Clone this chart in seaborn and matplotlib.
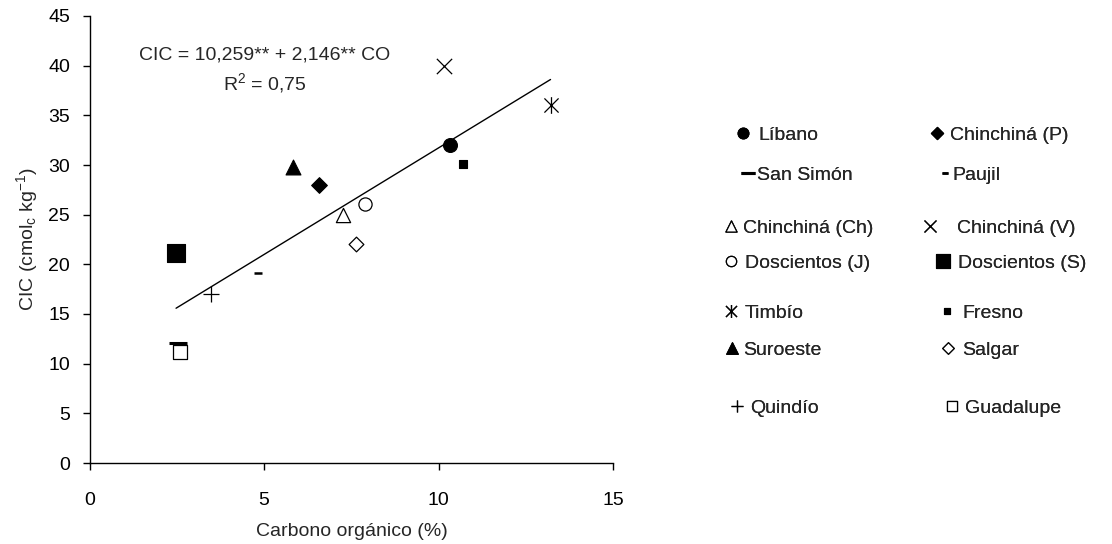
import numpy as np
import pandas as pd
import matplotlib
matplotlib.use("Agg")
import matplotlib.pyplot as plt
from matplotlib.path import Path
import seaborn as sns

# ---------------- data ----------------
sites = ['Líbano', 'Chinchiná (P)', 'San Simón', 'Paujil', 'Chinchiná (Ch)',
         'Chinchiná (V)', 'Doscientos (J)', 'Doscientos (S)', 'Timbío', 'Fresno',
         'Suroeste', 'Salgar', 'Quindío', 'Guadalupe']
carbono = [10.32, 6.59, 2.54, 4.84, 7.25, 10.15, 7.90, 2.48, 13.21, 10.71, 5.84, 7.65, 3.49, 2.60]
cic = [32.0, 28.0, 12.1, 19.1, 25.0, 40.0, 26.1, 21.1, 36.0, 30.1, 29.8, 22.0, 17.0, 11.2]
intercept = 10.259
slope = 2.146
eq_text = 'CIC = 10,259** + 2,146** CO'
r2_text = r'R$^{2}$ = 0,75'
x_ticks = [0, 5, 10, 15]
y_ticks = [0, 5, 10, 15, 20, 25, 30, 35, 40, 45]
x_label = 'Carbono orgánico (%)'
y_label = r'CIC (cmol$_\mathregular{c}$ kg$^{-1}$)'

df = pd.DataFrame({'site': sites, 'co': carbono, 'cic': cic})

# ---------------- styles ----------------
asterisk = Path([(-0.85, -0.85), (0.85, 0.85), (-0.85, 0.85), (0.85, -0.85), (0, -1.0), (0, 1.0)],
                [Path.MOVETO, Path.LINETO, Path.MOVETO, Path.LINETO, Path.MOVETO, Path.LINETO])
# marker, size (pt^2), filled?, line width
styles = {
    'Líbano':         ('o', 100, True, 0.8),
    'Chinchiná (P)':  ('D', 64, True, 0.8),
    'San Simón':      ('_', 174, None, 2.2),
    'Paujil':         ('_', 36, None, 1.8),
    'Chinchiná (Ch)': ('^', 105, False, 0.9),
    'Chinchiná (V)':  ('x', 121, None, 0.9),
    'Doscientos (J)': ('o', 90, False, 0.9),
    'Doscientos (S)': ('s', 150, True, 0.8),
    'Timbío':         (asterisk, 144, False, 0.9),
    'Fresno':         ('s', 33, True, 0.8),
    'Suroeste':       ('^', 115, True, 0.8),
    'Salgar':         ('D', 56, False, 0.9),
    'Quindío':        ('+', 121, None, 0.9),
    'Guadalupe':      ('s', 100, False, 0.9),
}
# legend layout: marker centre x (px), text start x (px), row y (px)
legend_layout = {
    'Líbano': (743, 758, 135), 'Chinchiná (P)': (937, 950, 135),
    'San Simón': (748, 757, 175), 'Paujil': (945, 952, 175),
    'Chinchiná (Ch)': (731, 743, 228), 'Chinchiná (V)': (930, 957, 228),
    'Doscientos (J)': (731, 745, 263), 'Doscientos (S)': (943, 958, 263),
    'Timbío': (731, 745, 313), 'Fresno': (947, 962, 313),
    'Suroeste': (732, 743, 350), 'Salgar': (948, 962, 350),
    'Quindío': (737, 750, 408), 'Guadalupe': (952, 965, 408),
}

sns.set_style('white')
plt.rcParams['font.family'] = ['Liberation Sans', 'DejaVu Sans']
plt.rcParams['mathtext.fontset'] = 'custom'
plt.rcParams['mathtext.rm'] = 'Liberation Sans'
plt.rcParams['mathtext.it'] = 'Liberation Sans:italic'
plt.rcParams['mathtext.bf'] = 'Liberation Sans:bold'
plt.rcParams['axes.unicode_minus'] = True

FS = 14
W, H = 1112, 544
fig = plt.figure(figsize=(W / 100, H / 100), dpi=100)
x0, x1, y0, y1 = 89.5, 613, 463, 16
ax = fig.add_axes([x0 / W, 1 - y0 / H, (x1 - x0) / W, (y0 - y1) / H])

handles = {}
for name in sites:
    m, s, filled, lw = styles[name]
    sub = df[df['site'] == name]
    if filled is None:
        sns.scatterplot(data=sub, x='co', y='cic', marker=m, s=s, color='black',
                        linewidth=lw, ax=ax, label=name, legend=False)
    else:
        sns.scatterplot(data=sub, x='co', y='cic', marker=m, s=s,
                        facecolor='black' if filled else 'white',
                        edgecolor='black', linewidth=lw, ax=ax, label=name, legend=False)
    handles[name] = ax.collections[-1]

xs = np.array([min(carbono), max(carbono)])
sns.lineplot(x=xs, y=intercept + slope * xs, color='black', linewidth=1.0, ax=ax, legend=False)

ax.set_xlim(0, 15)
ax.set_ylim(0, 45)
ax.set_xticks(x_ticks)
ax.set_yticks(y_ticks)
ax.tick_params(axis='both', direction='out', length=5, width=1.0, color='black',
               labelsize=FS, labelcolor='black', bottom=True, left=True)
ax.tick_params(axis='x', pad=16)
ax.tick_params(axis='y', pad=9)
for sp in ['top', 'right']:
    ax.spines[sp].set_visible(False)
for sp in ['left', 'bottom']:
    ax.spines[sp].set_color('black')
    ax.spines[sp].set_linewidth(1.0)
ax.grid(False)

ax.set_xlabel(x_label, fontsize=FS, va='center')
ax.xaxis.set_label_coords((352 - x0) / (x1 - x0), (y0 - 531) / (y0 - y1))
ax.set_ylabel(y_label, fontsize=FS, va='center')
ax.yaxis.set_label_coords((27 - x0) / (x1 - x0), 0.5)

ax.text((265 - x0) / (x1 - x0), (y0 - 55) / (y0 - y1), eq_text, transform=ax.transAxes,
        ha='center', va='center', fontsize=FS)
ax.text((265 - x0) / (x1 - x0), (y0 - 83) / (y0 - y1), r2_text, transform=ax.transAxes,
        ha='center', va='center', fontsize=FS)

# legend: one entry per artist, placed like the reference
fs_px = FS * 100 / 72
hl = 0.6
for name in sites:
    mx, tx, ry = legend_layout[name]
    half = hl * fs_px / 2
    htp = (tx - mx - half) / fs_px
    leg = fig.legend([handles[name]], [name], loc='center left',
                     bbox_to_anchor=((mx - half) / W, 1 - ry / H), bbox_transform=fig.transFigure,
                     handlelength=hl, handletextpad=htp, borderpad=0, borderaxespad=0,
                     frameon=False, fontsize=FS, scatterpoints=1, scatteryoffsets=[0.5],
                     markerscale=0.78)
    fig.add_artist(leg)

fig.savefig('out.png', dpi=100)
